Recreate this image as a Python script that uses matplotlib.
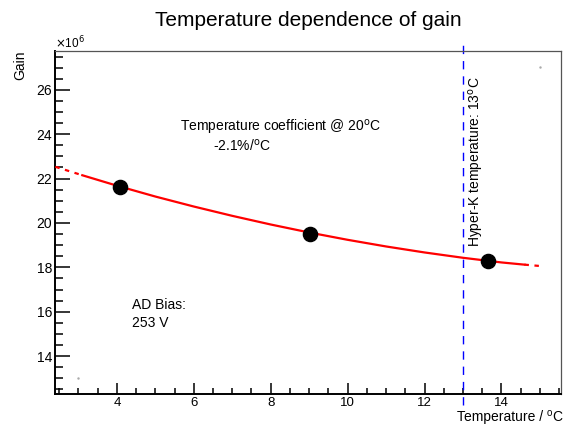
import matplotlib
matplotlib.use("Agg")
import matplotlib.pyplot as plt
import numpy as np

plt.rcParams["font.family"] = ["Liberation Sans", "DejaVu Sans"]

# measured points (temperature in degC, gain in units of 1e6)
temp = [4.08, 9.03, 13.64]
gain = [21.62, 19.52, 18.28]

# fitted curve
fit_temp = [2.4, 3.1, 4.0, 5.0, 6.0, 7.0, 8.0, 9.0, 10.0, 11.0, 12.0, 13.0, 14.0, 14.6, 15.0]
fit_gain = [22.53, 22.15, 21.68, 21.19, 20.74, 20.32, 19.93, 19.57, 19.24, 18.94, 18.67, 18.43, 18.22, 18.12, 18.06]

hk_temp = 13.0
x_ticks = [4, 6, 8, 10, 12, 14]
y_ticks = [14, 16, 18, 20, 22, 24, 26]

W, H = 567, 426
fig = plt.figure(figsize=(W / 100, H / 100), dpi=100)
ax = fig.add_axes([55 / W, 1 - 394 / H, (561 - 55) / W, (394 - 51) / H])
ax.set_xlim(2.39, 15.55)
ax.set_ylim(12.29, 27.75)

ft = np.array(fit_temp)
fg = np.array(fit_gain)
solid = (ft >= 3.1) & (ft <= 14.6)
left = ft <= 3.1
right = ft >= 14.6
ax.plot(ft[solid], fg[solid], color="red", lw=1.6, zorder=3)
ax.plot(ft[left], fg[left], color="red", lw=1.6, ls=(0, (2, 2.5)), zorder=3)
ax.plot(ft[right], fg[right], color="red", lw=1.6, ls=(0, (2, 2.5)), zorder=3)

ax.plot(temp, gain, "o", color="black", ms=10.2, zorder=4)

# stray frame points
ax.plot([3.0, 15.0], [13.0, 27.05], ".", color="#aaaaaa", ms=1.5)

ax.plot([hk_temp, hk_temp], [11.8, 28.0], color="blue", lw=1,
        dashes=(6, 5), clip_on=False, zorder=2)

ax.set_xticks(x_ticks)
ax.set_yticks(y_ticks)
ax.set_xticks(np.arange(2.5, 15.6, 0.5), minor=True)
ax.set_yticks(np.arange(12.5, 27.8, 0.5), minor=True)
ax.tick_params(axis="y", which="major", direction="in", length=11, width=1.1,
               labelsize=10, pad=2)
ax.tick_params(axis="y", which="minor", direction="in", length=5.5, width=1.1)
ax.tick_params(axis="x", which="major", direction="in", length=8, width=1.1,
               labelsize=9.5, pad=2.5)
ax.tick_params(axis="x", which="minor", direction="in", length=4, width=1.1)

for s in ["left", "bottom"]:
    ax.spines[s].set_linewidth(1.4)
    ax.spines[s].set_color("black")
for s in ["top", "right"]:
    ax.spines[s].set_linewidth(0.9)
    ax.spines[s].set_color("#555555")

fig.text(308 / W, 1 - 20 / H, "Temperature dependence of gain",
         fontsize=15, ha="center", va="center")
fig.text(55 / W, 1 - 43 / H, r"$\times$10$^6$", fontsize=8.5, ha="left", va="center")
fig.text(20 / W, 1 - 50 / H, "Gain", fontsize=10, rotation=90, ha="center", va="top")

# x axis title built from pieces so the raised "o" stays compact
rend = fig.canvas.get_renderer()
base_y = 5 / H
t_c = fig.text(562 / W, base_y, "C", fontsize=10, ha="right", va="baseline")
x_c = t_c.get_window_extent(rend).x0
t_o = fig.text((x_c - 0.3) / W, base_y + 5 / H, "o", fontsize=7, ha="right", va="baseline")
x_o = t_o.get_window_extent(rend).x0
fig.text((x_o - 3.5) / W, base_y, "Temperature /", fontsize=10, ha="right", va="baseline")

fig.text(180 / W, 1 - 127 / H, "Temperature coefficient @ 20$^{\\rm o}$C",
         fontsize=10, ha="left", va="center")
fig.text(213 / W, 1 - 146 / H, "-2.1%/$^{\\rm o}$C", fontsize=10, ha="left", va="center")
fig.text(132 / W, 1 - 305 / H, "AD Bias:", fontsize=10, ha="left", va="center")
fig.text(132 / W, 1 - 323 / H, "253 V", fontsize=10, ha="left", va="center")
fig.text(476 / W, 1 - 247 / H, "Hyper-K temperature: 13$^{\\rm o}$C", fontsize=10,
         rotation=90, ha="center", va="bottom")

fig.savefig("out.png", dpi=100, facecolor="white")
